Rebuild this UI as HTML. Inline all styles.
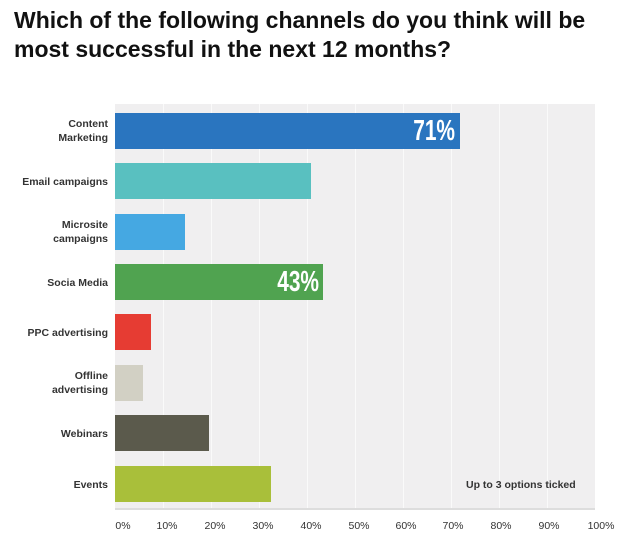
<!DOCTYPE html>
<html><head><style>
body{margin:0;width:628px;height:543px;background:#fff;font-family:"Liberation Sans",Arial,sans-serif;overflow:hidden;position:relative}
.t{position:absolute;left:14px;top:6px;font-size:23px;font-weight:bold;color:#111;line-height:29px;letter-spacing:0px}
.plot{position:absolute;left:115px;top:104px;width:480px;height:404px;background:#f0eff0;border-bottom:2px solid #ddd}
.g{position:absolute;top:0;bottom:0;width:1px;background:#fafafa}
.b{position:absolute;left:115px;height:36px}
.l{position:absolute;right:520px;width:110px;text-align:right;font-size:10.5px;font-weight:bold;color:#333;line-height:14px}
.x{position:absolute;top:520px;font-size:10.5px;color:#333;width:40px;text-align:center}
.v{position:absolute;color:#fff;font-weight:bold;font-size:29px;line-height:30px;transform:scaleX(0.72);transform-origin:right top;text-align:right;width:80px}
</style></head><body>
<div class="t">Which of the following channels do you think will be<br>most successful in the next 12 months?</div>
<div class="plot">
<div class="g" style="left:48px"></div><div class="g" style="left:96px"></div><div class="g" style="left:144px"></div><div class="g" style="left:192px"></div><div class="g" style="left:240px"></div><div class="g" style="left:288px"></div><div class="g" style="left:336px"></div><div class="g" style="left:384px"></div><div class="g" style="left:432px"></div>
</div>
<div class="b" style="top:113px;width:345px;background:#2a75bf"></div>
<div class="v" style="left:375px;top:116px">71%</div>
<div class="b" style="top:163px;width:196px;background:#59c0c0"></div>
<div class="b" style="top:214px;width:70px;background:#45a8e2"></div>
<div class="b" style="top:264px;width:208px;background:#50a350"></div>
<div class="v" style="left:239px;top:267px">43%</div>
<div class="b" style="top:314px;width:36px;background:#e63c33"></div>
<div class="b" style="top:365px;width:28px;background:#d2d0c4"></div>
<div class="b" style="top:415px;width:94px;background:#5b5a4c"></div>
<div class="b" style="top:466px;width:156px;background:#a9bf3a"></div>
<div style="position:absolute;left:466px;top:479px;font-size:10.5px;font-weight:bold;color:#333">Up to 3 options ticked</div>
<div class="l" style="top:117px">Content<br>Marketing</div>
<div class="l" style="top:175px">Email campaigns</div>
<div class="l" style="top:218px">Microsite<br>campaigns</div>
<div class="l" style="top:276px">Socia Media</div>
<div class="l" style="top:326px">PPC advertising</div>
<div class="l" style="top:369px">Offline<br>advertising</div>
<div class="l" style="top:427px">Webinars</div>
<div class="l" style="top:478px">Events</div>
<div class="x" style="left:103px">0%</div><div class="x" style="left:147px">10%</div><div class="x" style="left:195px">20%</div><div class="x" style="left:243px">30%</div><div class="x" style="left:291px">40%</div><div class="x" style="left:339px">50%</div><div class="x" style="left:386px">60%</div><div class="x" style="left:433px">70%</div><div class="x" style="left:481px">80%</div><div class="x" style="left:529px">90%</div><div class="x" style="left:581px">100%</div>
</body></html>
